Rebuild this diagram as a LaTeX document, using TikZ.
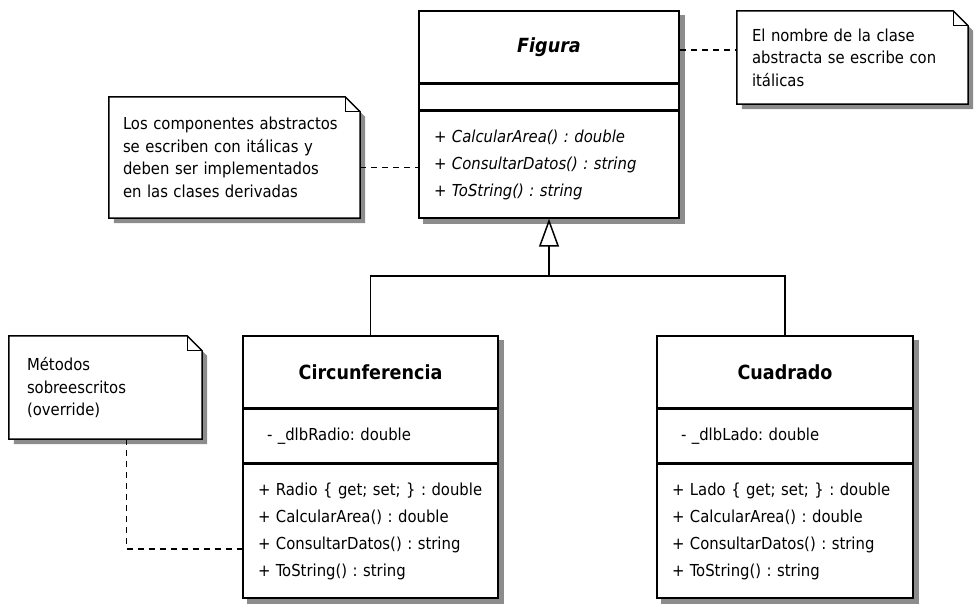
\documentclass[tikz,border=0pt]{standalone}
\usepackage{fontspec}
\setmainfont{DejaVu Sans Condensed}
\usepackage{tikz}
\usetikzlibrary{positioning,arrows.meta,backgrounds}
\frenchspacing

\colorlet{shadowgray}{black!45}
\tikzset{
  classhead/.style={draw, line width=1.5pt, fill=white, minimum height=72pt, inner sep=0pt, font=\fontsize{19.5}{22}\selectfont\bfseries},
  classpart/.style={draw, line width=1.5pt, fill=white, inner xsep=12pt, inner ysep=0pt, align=left, font=\fontsize{16.5}{27}\selectfont},
  notebox/.style={inner xsep=12pt, inner ysep=0pt, align=left, font=\fontsize{16.5}{22.5}\selectfont},
  dashline/.style={line width=1.2pt, dash pattern=on 6pt off 5pt},
}

\begin{document}
\begin{tikzpicture}[x=1pt, y=-1pt]
  \useasboundingbox (0,0) rectangle (977,609);

  % clase abstracta
  \node[classhead, minimum width=260pt] (figura) at (549,47) {\textit{Figura}};
  \node[classpart, below=0pt of figura, text width=236pt, minimum height=25pt] (figuraAttr) {};
  \node[classpart, below=0pt of figuraAttr, text width=236pt, minimum height=107pt] (figuraOps)
    {\hspace*{3pt}+ \textit{CalcularArea() : double}\\\hspace*{3pt}+ \textit{ConsultarDatos() : string}\\\hspace*{3pt}+ \textit{ToString() : string}};

  % clases derivadas
  \node[classhead, minimum width=255pt] (circ) at (370.5,372) {Circunferencia};
  \node[classpart, below=0pt of circ, text width=231pt, minimum height=53pt] (circAttr) {\hspace*{12pt}- \_dlbRadio: double};
  \node[classpart, below=0pt of circAttr, text width=231pt, minimum height=134pt] (circOps)
    {\mbox{\hspace*{3pt}+ Radio \{ get; set; \} : double}\\\hspace*{3pt}+ CalcularArea() : double\\\hspace*{3pt}+ ConsultarDatos() : string\\\hspace*{3pt}+ ToString() : string};

  \node[classhead, minimum width=256pt] (cuad) at (785,372) {Cuadrado};
  \node[classpart, below=0pt of cuad, text width=232pt, minimum height=53pt] (cuadAttr) {\hspace*{12pt}- \_dlbLado: double};
  \node[classpart, below=0pt of cuadAttr, text width=232pt, minimum height=134pt] (cuadOps)
    {\mbox{\hspace*{3pt}+ Lado \{ get; set; \} : double}\\\hspace*{3pt}+ CalcularArea() : double\\\hspace*{3pt}+ ConsultarDatos() : string\\\hspace*{3pt}+ ToString() : string};

  % notas
  \node[notebox, text width=207pt, minimum height=93pt] (noteAbs) at (852.5,57.5)
    {\hspace*{3pt}El nombre de la clase\\\hspace*{3pt}abstracta se escribe con\\\hspace*{3pt}itálicas};
  \node[notebox, text width=227pt, minimum height=121pt] (noteComp) at (234.5,157.5)
    {\hspace*{2pt}Los componentes abstractos\\\hspace*{2pt}se escriben con itálicas y\\\hspace*{2pt}deben ser implementados\\\hspace*{2pt}en las clases derivadas};
  \node[notebox, text width=169pt, minimum height=103pt] (noteOver) at (105.5,387.5)
    {\hspace*{6pt}Métodos\\\hspace*{6pt}sobreescritos\\\hspace*{6pt}(override)};

  \begin{scope}[on background layer]
    \foreach \c/\o in {figura/figuraOps, circ/circOps, cuad/cuadOps}
      \fill[shadowgray] ([shift={(5,5)}]\c.north west) rectangle ([shift={(5,5)}]\o.south east);
    \foreach \n in {noteAbs, noteComp, noteOver} {
      \fill[shadowgray] ([shift={(5,5)}]\n.north west) -- ([shift={(-10,5)}]\n.north east)
        -- ([shift={(5,20)}]\n.north east) -- ([shift={(5,5)}]\n.south east) -- ([shift={(5,5)}]\n.south west) -- cycle;
      \draw[line width=1.5pt, fill=white] (\n.north west) -- ([shift={(-15,0)}]\n.north east)
        -- ([shift={(0,15)}]\n.north east) -- (\n.south east) -- (\n.south west) -- cycle;
      \draw[line width=1pt] ([shift={(-15,0)}]\n.north east) |- ([shift={(0,15)}]\n.north east);
    }
  \end{scope}

  % herencia
  \coordinate (branch) at (549,276);
  \draw[line width=1.5pt] (circ.north) |- (branch) -| (cuad.north);
  \draw[line width=1.5pt, -{Triangle[fill=white, length=28pt, width=20pt]}] (branch) -- (figuraOps.south);

  % anclas de las notas
  \draw[dashline] ([yshift=-3pt]figura.east) -- ([yshift=-3pt]figura.east -| noteAbs.west);
  \draw[dashline] ([yshift=-10pt]noteComp.east) -- ([yshift=-10pt]noteComp.east -| figuraOps.west);
  \draw[dashline] ([xshift=21pt]noteOver.south) |- ([yshift=-18pt]circOps.west);
\end{tikzpicture}
\end{document}
